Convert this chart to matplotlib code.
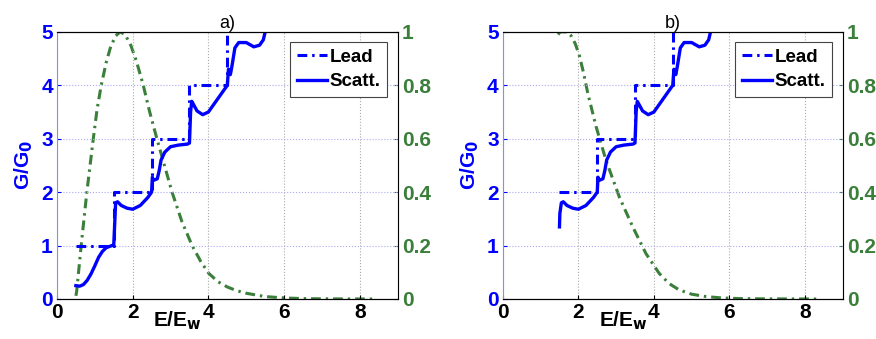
import numpy as np
import matplotlib.pyplot as plt

plt.rcParams['font.family'] = ['Liberation Sans', 'DejaVu Sans']

# lead conductance (step function), panel a and b
lead_x_a = [0.5, 1.5, 1.5, 2.5, 2.5, 3.5, 3.5, 4.5, 4.5]
lead_y_a = [1, 1, 2, 2, 3, 3, 4, 4, 5.2]
lead_x_b = [1.5, 2.5, 2.5, 3.5, 3.5, 4.5, 4.5]
lead_y_b = [2, 2, 3, 3, 4, 4, 5.2]

# scattering conductance, shared part from x = 1.55 on
scatt_x_tail = [1.55, 1.6, 1.7, 1.85, 2.0, 2.2, 2.4, 2.5, 2.52, 2.55, 2.65, 2.7,
                2.75, 2.85, 3.0, 3.2, 3.45, 3.5, 3.53, 3.56, 3.6, 3.7, 3.85,
                4.0, 4.2, 4.4, 4.5, 4.53, 4.58, 4.62, 4.7, 4.8, 5.0, 5.2, 5.35,
                5.45, 5.5, 5.52]
scatt_y_tail = [1.8, 1.82, 1.75, 1.7, 1.68, 1.75, 1.9, 2.0, 2.28, 2.22, 2.25, 2.4,
                2.6, 2.75, 2.85, 2.88, 2.9, 2.92, 3.5, 3.7, 3.65, 3.52, 3.45,
                3.5, 3.7, 3.9, 4.0, 4.3, 4.2, 4.35, 4.7, 4.8, 4.8, 4.72, 4.75,
                4.85, 5.0, 5.2]
scatt_x_a = [0.5, 0.6, 0.7, 0.8, 0.9, 1.0, 1.1, 1.2, 1.3, 1.45, 1.5] + scatt_x_tail
scatt_y_a = [0.25, 0.24, 0.27, 0.35, 0.47, 0.62, 0.78, 0.89, 0.96, 1.0, 1.0] + scatt_y_tail
scatt_x_b = [1.5, 1.51] + scatt_x_tail
scatt_y_b = [1.35, 1.6] + scatt_y_tail

# green distribution (right axis)
dist_x_a = [0.5, 0.52, 0.64, 0.79, 0.96, 1.06, 1.17, 1.3, 1.42, 1.55, 1.67, 1.8,
            1.95, 2.1, 2.28, 2.45, 2.64, 2.84, 3.04, 3.3, 3.57, 3.8, 4.01, 4.25,
            4.5, 4.75, 5.02, 5.5, 6.0, 6.5, 7.0, 7.5, 8.4]
dist_y_a = [0.012, 0.027, 0.2, 0.4, 0.6, 0.71, 0.8, 0.885, 0.945, 0.985, 1.0, 0.99,
            0.95, 0.89, 0.8, 0.7, 0.6, 0.5, 0.4, 0.29, 0.2, 0.14, 0.096, 0.065,
            0.045, 0.031, 0.021, 0.009, 0.004, 0.0015, 0.0006, 0.0002, 0.0]
dist_x_b = [1.46, 1.52, 1.59, 1.7, 1.81, 1.92, 2.03, 2.14, 2.25, 2.47, 2.73, 3.09,
            3.44, 3.79, 4.14, 4.4, 4.67, 5.0, 5.38, 5.8, 6.26, 7.0, 8.42]
dist_y_b = [0.99, 1.0, 1.0, 1.0, 0.985, 0.955, 0.91, 0.845, 0.77, 0.645, 0.52,
            0.38, 0.27, 0.17, 0.096, 0.058, 0.034, 0.018, 0.009, 0.004, 0.0015,
            0.0004, 0.0]

BLUE = '#0000ff'
GREEN = '#3a7f3a'
DASHDOT = (3.2, 1.6, 0.8, 1.6)

fig = plt.figure(figsize=(8.76, 3.39), dpi=100)


def panel(rect, title, lx, ly, sx, sy, dx, dy):
    ax = fig.add_axes(rect)
    ax.plot(lx, ly, color=BLUE, lw=2.2, ls=(0, DASHDOT), label='Lead')
    ax.plot(sx, sy, color=BLUE, lw=2.4, ls='-', label='Scatt.')
    ax.set_xlim(0, 9)
    ax.set_ylim(0, 5)
    ax.set_xticks([0, 2, 4, 6, 8])
    ax.set_yticks([0, 1, 2, 3, 4, 5])
    ax.xaxis.grid(True, ls=':', color='#aaaaaa', lw=0.8)
    ax.yaxis.grid(True, ls=':', color='#aaaaee', lw=0.8)
    for t in ax.get_xticklabels():
        t.set_fontweight('bold')
        t.set_fontsize(15)
    for t in ax.get_yticklabels():
        t.set_fontweight('bold')
        t.set_fontsize(15)
        t.set_color(BLUE)
    ax.tick_params(axis='y', colors=BLUE, length=3, direction='in', pad=3)
    ax.tick_params(axis='x', length=3, direction='in', pad=3)
    ax.spines['left'].set_color('#8888ff')
    ax.set_title(title, fontsize=13, pad=1)
    ax.set_ylabel('G/G$_\\mathbf{0}$', color=BLUE, fontsize=15, fontweight='bold', labelpad=4)
    ax.set_xlabel('E/E$_\\mathbf{w}$', fontsize=15, fontweight='bold')
    ax.xaxis.set_label_coords(0.355, -0.04, transform=ax.transAxes)
    ax.xaxis.label.set_va('top')
    leg = ax.legend(loc='upper right', prop={'weight': 'bold', 'size': 13.5},
                    fancybox=False, edgecolor='#444444', handlelength=1.6,
                    handletextpad=0.15, borderpad=0.35, labelspacing=0.4,
                    borderaxespad=0.55, framealpha=1)
    leg.get_frame().set_linewidth(0.8)

    ax2 = ax.twinx()
    ax2.plot(dx, dy, color=GREEN, lw=2.2, ls=(0, DASHDOT))
    ax2.set_ylim(0, 1)
    ax2.set_yticks([0, 0.2, 0.4, 0.6, 0.8, 1])
    ax2.set_yticklabels(['0', '0.2', '0.4', '0.6', '0.8', '1'])
    for t in ax2.get_yticklabels():
        t.set_fontweight('bold')
        t.set_fontsize(15)
        t.set_color(GREEN)
    ax2.tick_params(axis='y', colors=GREEN, length=3, direction='in', pad=3)
    ax2.spines['right'].set_color('#8fb88f')
    ax2.spines['left'].set_visible(False)
    ax.set_zorder(ax2.get_zorder() + 1)
    ax.patch.set_visible(False)
    return ax, ax2


panel([0.065, 0.118, 0.389, 0.788], 'a)', lead_x_a, lead_y_a, scatt_x_a, scatt_y_a,
      dist_x_a, dist_y_a)
panel([0.574, 0.118, 0.388, 0.788], 'b)', lead_x_b, lead_y_b, scatt_x_b, scatt_y_b,
      dist_x_b, dist_y_b)

fig.savefig('out.png', dpi=100)
